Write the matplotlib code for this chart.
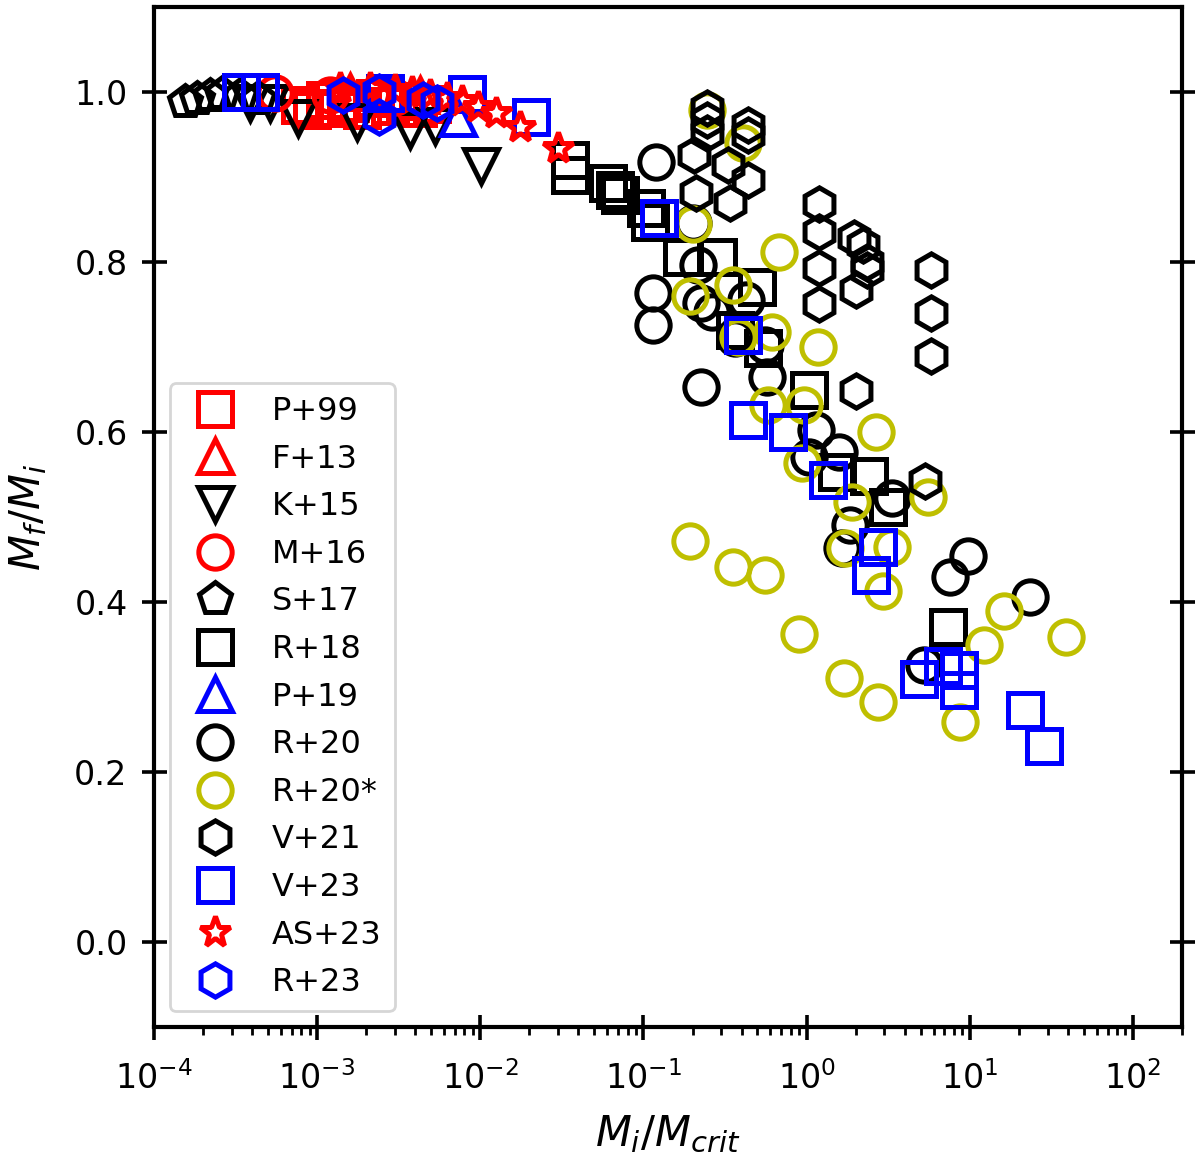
import numpy as np
import matplotlib
matplotlib.use('Agg')
import matplotlib.pyplot as plt

# P+99
p99_x = [7.87e-4, 9.31e-4, 1.12e-3, 1.35e-3, 1.59e-3, 1.89e-3, 2.27e-3, 2.81e-3, 3.47e-3, 4.17e-3, 5.08e-3]
p99_y = [0.985, 0.979, 0.991, 0.981, 0.987, 0.979, 0.993, 0.984, 0.989, 0.981, 0.986]
# F+13
f13_x = [1.59e-3, 4.29e-3]
f13_y = [1.0, 0.996]
# K+15
k15_x = [3.88e-4, 5.15e-4, 7.63e-4, 1.76e-3, 3.72e-3, 5.30e-3, 1.01e-2]
k15_y = [0.987, 0.987, 0.969, 0.965, 0.955, 0.960, 0.913]
# M+16
m16_x = [5.52e-4, 1.20e-3, 3.01e-3]
m16_y = [0.999, 0.996, 0.994]
# S+17
s17_x = [1.55e-4, 1.84e-4, 2.21e-4, 2.61e-4, 3.37e-4, 4.35e-4]
s17_y = [0.988, 0.992, 0.995, 0.998, 0.995, 0.992]
# R+18
r18_x = [3.56e-2, 3.56e-2, 6.10e-2, 6.73e-2, 7.23e-2, 0.103, 0.110, 0.173, 0.288, 0.500,
         0.366, 0.537, 1.03, 1.53, 2.40, 3.14, 7.33]
r18_y = [0.920, 0.902, 0.893, 0.885, 0.879, 0.864, 0.847, 0.806, 0.806, 0.771,
         0.720, 0.699, 0.649, 0.553, 0.548, 0.512, 0.371]
# P+19
p19_x = [7.33e-3]
p19_y = [0.969]
# R+20
r20_x = [0.119, 0.200, 0.217, 0.115, 0.115, 0.224, 0.366, 0.560, 0.224, 0.569, 1.14, 1.04,
         1.57, 1.84, 1.66, 3.32, 9.72, 7.54, 23.3, 5.22, 0.265, 0.423]
r20_y = [0.918, 0.846, 0.796, 0.764, 0.726, 0.752, 0.711, 0.702, 0.653, 0.665, 0.602, 0.571,
         0.576, 0.491, 0.464, 0.522, 0.454, 0.429, 0.406, 0.326, 0.741, 0.755]
# R+20*
r20s_x = [0.244, 0.405, 0.200, 0.682, 0.356, 0.194, 0.378, 0.618, 1.17, 0.577, 0.960, 0.944,
          2.65, 1.91, 5.52, 1.73, 3.32, 2.96, 16.2, 38.8, 12.2, 8.69, 0.194, 0.356, 0.560,
          0.893, 1.69, 2.73]
r20s_y = [0.979, 0.940, 0.845, 0.812, 0.773, 0.760, 0.712, 0.718, 0.700, 0.632, 0.632, 0.564,
          0.600, 0.518, 0.524, 0.464, 0.465, 0.413, 0.389, 0.359, 0.349, 0.259, 0.472, 0.441,
          0.432, 0.362, 0.311, 0.282]
# V+21
v21_x = [0.244, 0.244, 0.244, 0.435, 0.435, 0.203, 0.332, 0.435, 0.211, 0.337, 1.19, 1.19,
         1.19, 1.19, 1.94, 2.21, 2.33, 2.33, 2.00, 5.77, 5.77, 5.77, 2.00, 5.30]
v21_y = [0.981, 0.967, 0.952, 0.961, 0.949, 0.926, 0.914, 0.896, 0.881, 0.869, 0.868, 0.835,
         0.793, 0.751, 0.828, 0.820, 0.800, 0.791, 0.767, 0.791, 0.740, 0.689, 0.648, 0.542]
# V+23
v23_x = [3.42e-4, 4.47e-4, 2.61e-3, 8.32e-3, 2.06e-2, 0.124, 0.405, 0.435, 0.764, 1.36,
         2.73, 2.47, 4.86, 6.82, 8.57, 8.57, 21.7, 28.4]
v23_y = [1.0, 1.0, 0.999, 0.998, 0.971, 0.852, 0.714, 0.614, 0.600, 0.544,
         0.465, 0.432, 0.309, 0.325, 0.320, 0.296, 0.273, 0.231]
# AS+23
as23_x = [1.38e-3, 2.11e-3, 3.01e-3, 3.83e-3, 4.93e-3, 6.28e-3, 7.76e-3, 9.72e-3, 1.24e-2, 1.76e-2, 3.01e-2]
as23_y = [1.005, 1.005, 1.002, 1.0, 0.996, 0.993, 0.989, 0.982, 0.975, 0.959, 0.934]
# R+23
r23_x = [1.45e-3, 2.40e-3, 2.40e-3, 4.47e-3, 5.45e-3]
r23_y = [0.996, 1.0, 0.971, 0.991, 0.987]

x_ticks = [1e-4, 1e-3, 1e-2, 1e-1, 1e0, 1e1, 1e2]
y_ticks = [0.0, 0.2, 0.4, 0.6, 0.8, 1.0]

series = [
    ('P+99', p99_x, p99_y, 's', 'r', 12),
    ('F+13', f13_x, f13_y, '^', 'r', 12),
    ('K+15', k15_x, k15_y, 'v', 'k', 12),
    ('M+16', m16_x, m16_y, 'o', 'r', 12),
    ('S+17', s17_x, s17_y, 'p', 'k', 12),
    ('R+18', r18_x, r18_y, 's', 'k', 12),
    ('P+19', p19_x, p19_y, '^', 'b', 12),
    ('R+20', r20_x, r20_y, 'o', 'k', 12),
    ('R+20*', r20s_x, r20s_y, 'o', 'y', 12),
    ('V+21', v21_x, v21_y, 'h', 'k', 12),
    ('V+23', v23_x, v23_y, 's', 'b', 12),
    ('AS+23', as23_x, as23_y, '*', 'r', 11.5),
    ('R+23', r23_x, r23_y, 'h', 'b', 12),
]

fig = plt.figure(figsize=(6, 5.81), dpi=200)
ax = fig.add_axes([0.1283, 0.1162, 0.985 - 0.1283, 0.994 - 0.1162])

for name, xs, ys, mk, col, ms in series:
    ax.plot(xs, ys, mk, ls='none', mfc='none', mec=col, ms=ms, mew=1.8, label=name)

ax.set_xscale('log')
ax.set_xticks(x_ticks)
ax.set_xlim(1e-4, 2e2)
ax.set_ylim(-0.1, 1.1)
ax.set_yticks(y_ticks)

for s in ax.spines.values():
    s.set_linewidth(1.5)
ax.tick_params(axis='y', which='major', direction='inout', length=9, width=1.3,
               left=True, right=True, labelsize=12, pad=5)
ax.tick_params(axis='x', which='major', direction='inout', length=9, width=1.3,
               top=False, labelsize=12, pad=8)
ax.tick_params(axis='x', which='minor', direction='out', length=3, width=1.0, top=False)

ax.set_xlabel(r'$M_i/M_{crit}$', fontsize=15, labelpad=6)
ax.set_ylabel(r'$M_f/M_i$', fontsize=15, labelpad=9)

ax.legend(loc='lower left', fontsize=11.5, numpoints=1, labelspacing=0.52)

fig.savefig('out.png', dpi=200)
